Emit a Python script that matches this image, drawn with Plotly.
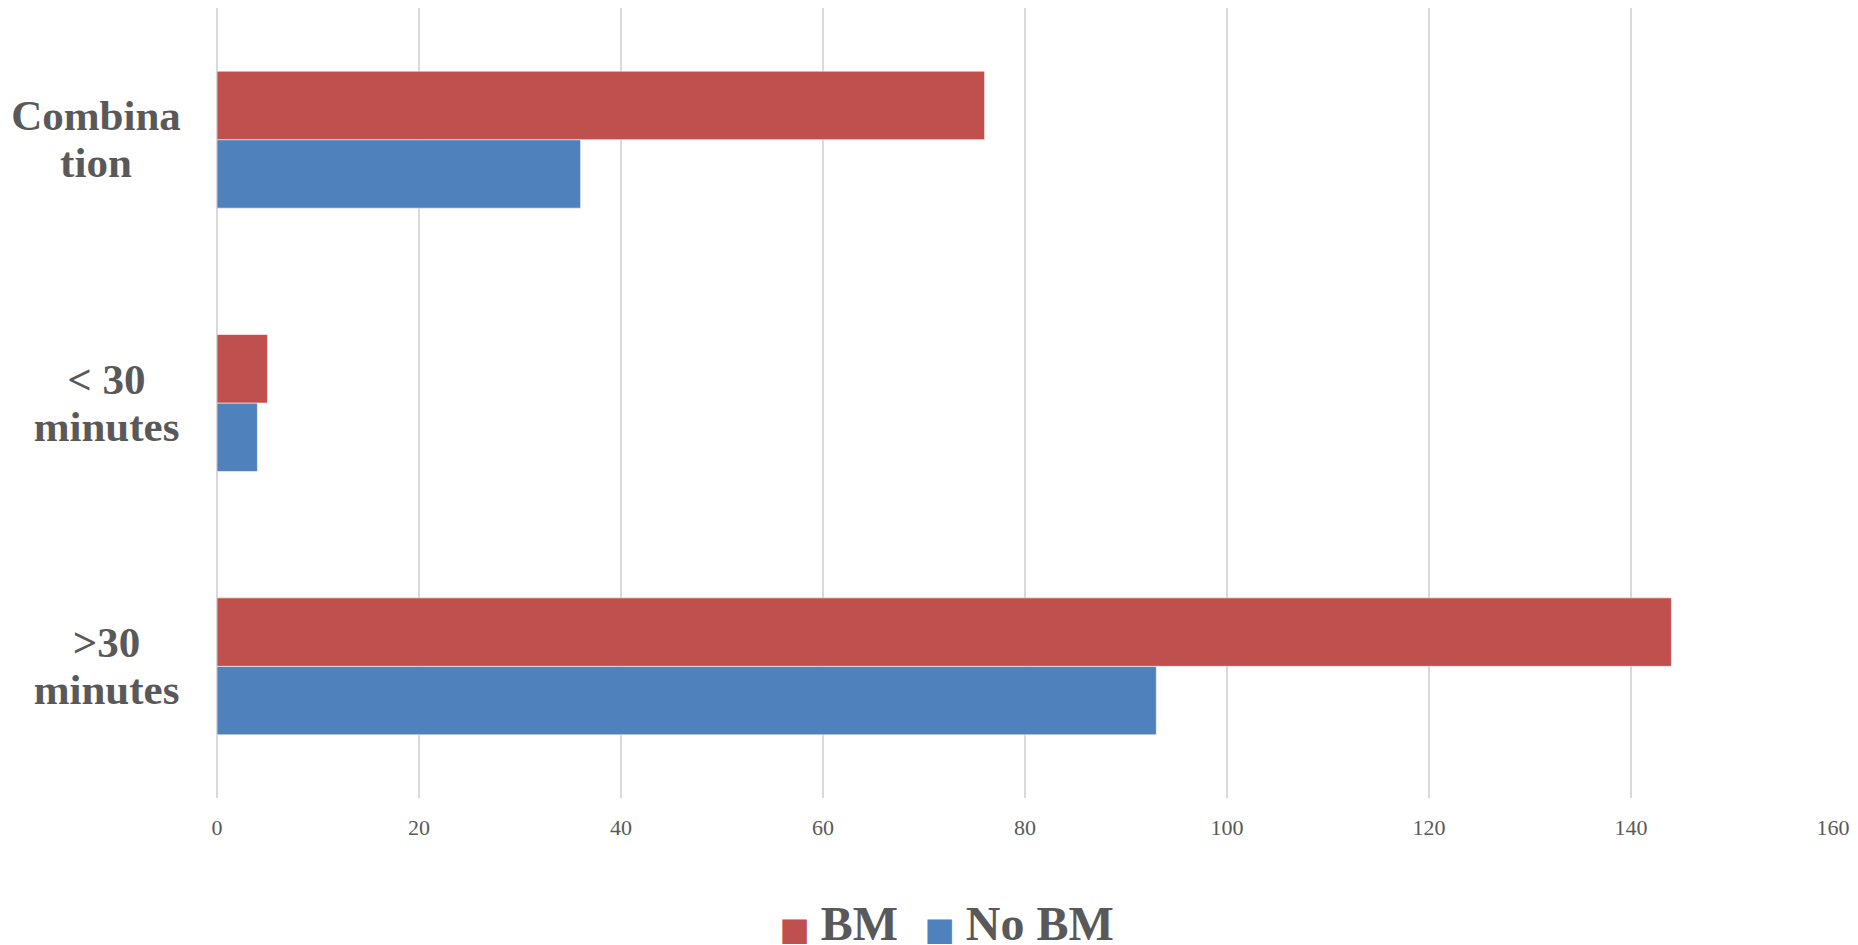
import plotly.graph_objects as go

# Categories (bottom to top on the y axis) and the wrapped labels drawn beside them
categories = [">30 minutes", "< 30 minutes", "Combination"]
category_lines = [[">30", "minutes"], ["&lt; 30", "minutes"], ["Combina", "tion"]]

bm_values = [144, 5, 76]
no_bm_values = [93, 4, 36]

x_ticks = [0, 20, 40, 60, 80, 100, 120, 140, 160]

RED = "#C0504D"
BLUE = "#4F81BD"
GREY_TEXT = "#595959"
GRID = "#D9D9D9"
SERIF = "Liberation Serif, Times New Roman, serif"

W, H = 1858, 945
M_L, M_R, M_T, M_B = 217, 25, 8, 147

# Label block widths (px) so the wrapped lines centre inside a right-aligned block
LABEL_BOX_W = [149, 149, 170]
LINE_SHIFT = [24, -23]

fig = go.Figure()

# In a horizontal grouped bar the first trace sits lowest, so No BM goes first
fig.add_trace(go.Bar(
    y=categories, x=no_bm_values, orientation="h", name="No BM",
    marker=dict(color=BLUE, line=dict(color="rgba(255,255,255,0.55)", width=1)),
    showlegend=False,
))
fig.add_trace(go.Bar(
    y=categories, x=bm_values, orientation="h", name="BM",
    marker=dict(color=RED, line=dict(color="rgba(255,255,255,0.55)", width=1)),
    showlegend=False,
))

# Legend entries: a large coloured square glyph before each series name.
# A blank trailing entry keeps the last name from being clipped by entrywidth.
legend_items = [("BM", RED), ("No BM", BLUE), ("", None)]
for rank, (name, color) in enumerate(legend_items, start=1):
    if color:
        label = (f"<span style='color:{color};font-family:DejaVu Sans;"
                 f"font-size:32px'>■ </span>{name}")
    else:
        label = " "
    fig.add_trace(go.Scatter(
        x=[None], y=[None], mode="markers", name=label, legendrank=rank,
        marker=dict(symbol="square", size=1, color="rgba(0,0,0,0)"),
    ))

# Category labels: one annotation per line
plot_w = W - M_L - M_R
label_right = (183 - M_L) / plot_w
annotations = []
for cat, lines, box_w in zip(categories, category_lines, LABEL_BOX_W):
    for line, shift in zip(lines, LINE_SHIFT):
        annotations.append(dict(
            x=label_right, xref="paper", y=cat, yref="y",
            text=line, showarrow=False, width=box_w,
            xanchor="right", yanchor="middle", align="center", yshift=shift,
            font=dict(family=SERIF, size=43, color=GREY_TEXT, weight="bold"),
        ))

fig.update_layout(
    width=W, height=H,
    margin=dict(l=M_L, r=M_R, t=M_T, b=M_B),
    paper_bgcolor="white", plot_bgcolor="white",
    barmode="group", bargap=0.48, bargroupgap=0,
    annotations=annotations,
    showlegend=True,
    legend=dict(
        orientation="h", xref="container", yref="container",
        x=0.398, xanchor="left", y=0.025, yanchor="middle",
        font=dict(family=SERIF, size=48, color=GREY_TEXT, weight="bold"),
        itemwidth=30, entrywidth=100, traceorder="normal",
        bgcolor="rgba(0,0,0,0)",
    ),
    xaxis=dict(
        range=[0, 160], tickvals=x_ticks, ticktext=[str(t) for t in x_ticks],
        showgrid=True, gridcolor=GRID, gridwidth=2,
        zeroline=True, zerolinecolor=GRID, zerolinewidth=2,
        showline=False, ticks="",
        ticklabelstandoff=14,
        tickfont=dict(family=SERIF, size=22, color=GREY_TEXT),
        fixedrange=True,
    ),
    yaxis=dict(
        categoryorder="array", categoryarray=categories,
        showticklabels=False, showgrid=False, zeroline=False, showline=False,
        ticks="", fixedrange=True,
    ),
)

fig.write_html("out.html", config={"displayModeBar": False})
